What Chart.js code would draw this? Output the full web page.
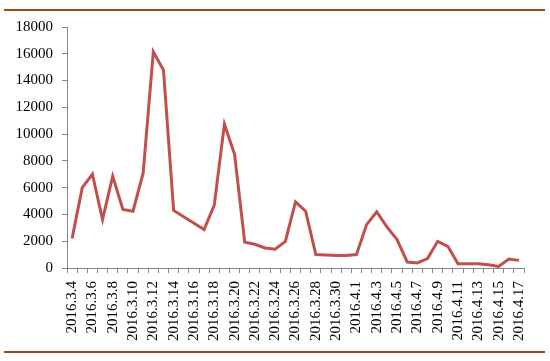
<!DOCTYPE html>
<html>
<head>
<meta charset="utf-8">
<script src="https://cdn.jsdelivr.net/npm/chart.js@4/dist/chart.umd.min.js"></script>
<style>
html,body{margin:0;padding:0;background:#fff;}
#wrap{position:relative;width:550px;height:361px;overflow:hidden;}
#c{position:absolute;left:0;top:0;}
.rule{position:absolute;left:4px;width:541px;height:2px;background:#9B4A10;}
</style>
</head>
<body>
<div id="wrap">
<div class="rule" style="top:9px"></div>
<canvas id="c" width="550" height="361"></canvas>
<div class="rule" style="top:351px"></div>
</div>
<script>
const categories = [
 '2016.3.4','2016.3.5','2016.3.6','2016.3.7','2016.3.8','2016.3.9','2016.3.10','2016.3.11',
 '2016.3.12','2016.3.13','2016.3.14','2016.3.15','2016.3.16','2016.3.17','2016.3.18','2016.3.19',
 '2016.3.20','2016.3.21','2016.3.22','2016.3.23','2016.3.24','2016.3.25','2016.3.26','2016.3.27',
 '2016.3.28','2016.3.29','2016.3.30','2016.3.31','2016.4.1','2016.4.2','2016.4.3','2016.4.4',
 '2016.4.5','2016.4.6','2016.4.7','2016.4.8','2016.4.9','2016.4.10','2016.4.11','2016.4.12',
 '2016.4.13','2016.4.14','2016.4.15','2016.4.16','2016.4.17'
];
const values = [
 2200, 6000, 7000, 3620, 6860, 4370, 4240, 7100,
 16150, 14780, 4300, null, null, 2870, 4700, 10740,
 8490, 1920, 1770, 1500, 1400, 1990, 4940, 4240,
 1000, 975, 925, 925, 1000, 3240, 4190, 3070,
 2120, 450, 375, 700, 1990, 1620, 320, 320,
 320, 250, 120, 670, 570
];
const yTicks = {min: 0, max: 18000, step: 2000};

const font = {family: "'Liberation Serif','Times New Roman',serif", size: 15};
new Chart(document.getElementById('c'), {
  type: 'line',
  data: {
    labels: categories,
    datasets: [{
      data: values,
      borderColor: '#C0504D',
      borderWidth: 3,
      pointRadius: 0,
      tension: 0,
      spanGaps: true,
      fill: false
    }]
  },
  options: {
    responsive: false,
    animation: false,
    devicePixelRatio: 1,
    plugins: {legend: {display: false}, tooltip: {enabled: false}},
    layout: {padding: {left: 0, right: 26, top: 27, bottom: 0}},
    scales: {
      x: {
        offset: true,
        grid: {display: true, offset: true, drawOnChartArea: false, drawTicks: true, tickLength: 5, color: '#868686', lineWidth: 1},
        border: {display: true, color: '#868686', width: 1},
        ticks: {
          autoSkip: false, maxRotation: 90, minRotation: 90, padding: 8,
          color: '#000', font: font,
          callback: function(v, i){ return i % 2 === 0 ? categories[i] : ''; }
        },
        afterFit: function(s){ s.height = 93; }
      },
      y: {
        min: yTicks.min, max: yTicks.max,
        grid: {display: true, drawOnChartArea: false, drawTicks: true, tickLength: 5, color: '#868686'},
        border: {display: true, color: '#868686', width: 1},
        ticks: {stepSize: yTicks.step, padding: 9, color: '#000', font: font,
          callback: function(v){ return String(v); }},
        afterFit: function(s){ s.width = 67; }
      }
    }
  }
});
</script>
</body>
</html>
